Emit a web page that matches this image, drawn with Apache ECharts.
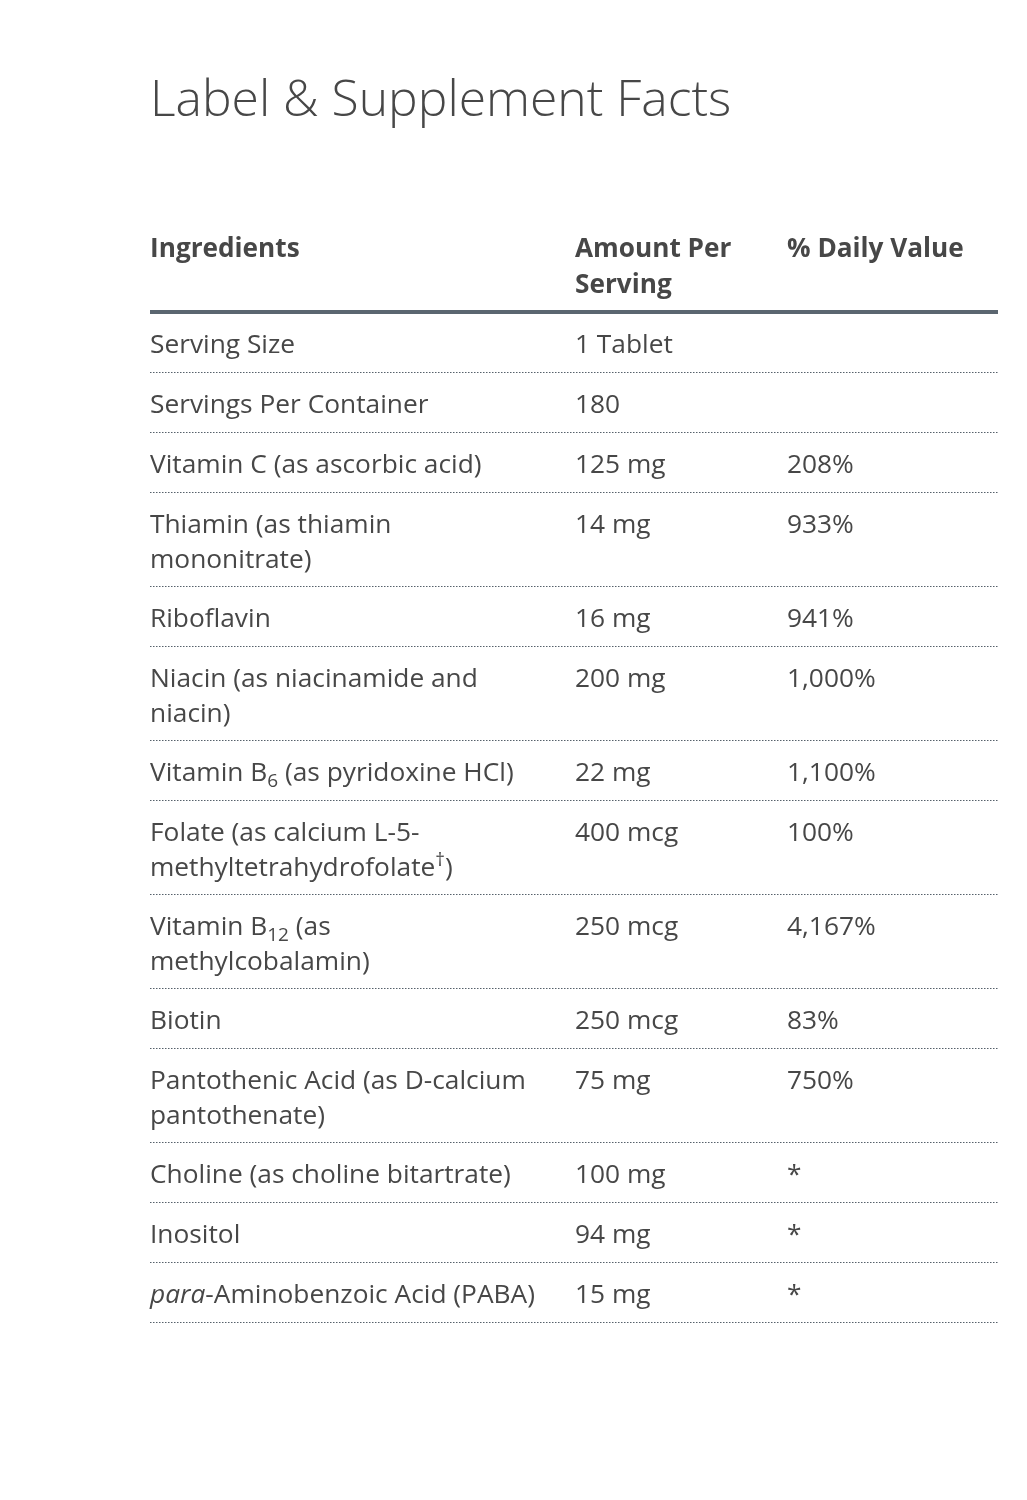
<!DOCTYPE html>
<html>
<head>
<meta charset="utf-8">
<script src="https://cdn.jsdelivr.net/npm/echarts@6/dist/echarts.min.js"></script>
<style>
html,body{margin:0;padding:0;background:#fff;}
#main{width:1027px;height:1500px;}
</style>
</head>
<body>
<div id="main"></div>
<script>
// ---- Data ----
const titleText = 'Label & Supplement Facts';
const headers = ['Ingredients', 'Amount Per\nServing', '% Daily Value'];
const ingredientNames = [
  'Serving Size',
  'Servings Per Container',
  'Vitamin C (as ascorbic acid)',
  'Thiamin (as thiamin\nmononitrate)',
  'Riboflavin',
  'Niacin (as niacinamide and\nniacin)',
  'Vitamin B{sub|6} (as pyridoxine HCl)',
  'Folate (as calcium L-5-\nmethyltetrahydrofolate{sup|†})',
  'Vitamin B{sub|12} (as\nmethylcobalamin)',
  'Biotin',
  'Pantothenic Acid (as D-calcium\npantothenate)',
  'Choline (as choline bitartrate)',
  'Inositol',
  '{it|para}-Aminobenzoic Acid (PABA)'
];
const amounts = ['1 Tablet', '180', '125 mg', '14 mg', '16 mg', '200 mg', '22 mg', '400 mcg', '250 mcg', '250 mcg', '75 mg', '100 mg', '94 mg', '15 mg'];
const dailyValues = ['', '', '208%', '933%', '941%', '1,000%', '1,100%', '100%', '4,167%', '83%', '750%', '*', '*', '*'];

// ---- Layout helpers ----
const FONT = '"Open Sans", "Noto Sans", sans-serif';
const TEXT = '#474747';
const BODY_FS = 26.3, HEAD_FS = 26.2;
const LINE_H = 34, ROW_PAD = 26, HEADER_H = 82;
const COLS = [0, 425 / 848, 637 / 848];

const lineCounts = ingredientNames.map(s => s.split('\n').length);
const rowData = [];
let acc = 0;
lineCounts.forEach((n, i) => {
  const h = ROW_PAD + LINE_H * n;
  rowData.push([i, acc, acc + h]);
  acc += h;
});
const total = acc;

const rich = {
  sub: {fontSize: 19, lineHeight: 22, verticalAlign: 'bottom', fill: TEXT, fontFamily: FONT},
  sup: {fontSize: 19, lineHeight: 26, verticalAlign: 'top', fill: TEXT, fontFamily: FONT},
  it: {fontStyle: 'italic', fontSize: BODY_FS, fill: TEXT, fontFamily: FONT}
};

function cellText(str, x, y, bold) {
  return {
    type: 'text',
    style: {
      text: str, x: x, y: y, fill: TEXT,
      fontFamily: FONT, fontSize: bold ? HEAD_FS : BODY_FS, fontWeight: bold ? 'bold' : 'normal',
      lineHeight: bold ? 36 : 35, verticalAlign: 'top', align: 'left',
      rich: rich
    }
  };
}

function renderRow(params, api) {
  const i = api.value(0);
  const p0 = api.coord([0, api.value(1)]);
  const p1 = api.coord([1, api.value(2)]);
  const w = p1[0] - p0[0];
  const yTop = p0[1] + 16.5;
  const yLine = Math.round(p1[1]) + 0.5;
  return {
    type: 'group',
    children: [
      cellText(ingredientNames[i], p0[0] + COLS[0] * w, yTop, false),
      cellText(amounts[i], p0[0] + COLS[1] * w, yTop, false),
      cellText(dailyValues[i], p0[0] + COLS[2] * w, yTop, false),
      {
        type: 'line',
        shape: {x1: p0[0], y1: yLine, x2: p1[0], y2: yLine},
        style: {stroke: '#56616b', lineWidth: 1, lineDash: [1.5, 1.5]}
      }
    ]
  };
}

function renderHeader(params, api) {
  const p0 = api.coord([0, api.value(0)]);
  const p1 = api.coord([1, api.value(1)]);
  const w = p1[0] - p0[0];
  return {
    type: 'group',
    children: headers.map((h, k) => cellText(h, p0[0] + COLS[k] * w, p0[1] + 2, true)).concat([{
      type: 'rect',
      shape: {x: p0[0], y: p1[1] - 2, width: w, height: 4},
      style: {fill: '#5b6670'}
    }])
  };
}

const chart = echarts.init(document.getElementById('main'), null, {renderer: 'canvas'});
chart.setOption({
  backgroundColor: '#ffffff',
  animation: false,
  title: {
    text: titleText, left: 145, top: 72,
    textStyle: {fontFamily: FONT, fontSize: 49.8, fontWeight: 300, color: '#474747'}
  },
  grid: {left: 150, width: 848, top: 312 - HEADER_H, height: total + HEADER_H},
  xAxis: {type: 'value', min: 0, max: 1, show: false},
  yAxis: {type: 'value', inverse: true, min: -HEADER_H, max: total, show: false},
  series: [
    {type: 'custom', renderItem: renderHeader, clip: false, data: [[-HEADER_H, 0]], encode: {x: -1, y: [0, 1]}, silent: true},
    {type: 'custom', renderItem: renderRow, clip: false, data: rowData, encode: {x: -1, y: [1, 2]}, silent: true}
  ]
});
</script>
</body>
</html>
